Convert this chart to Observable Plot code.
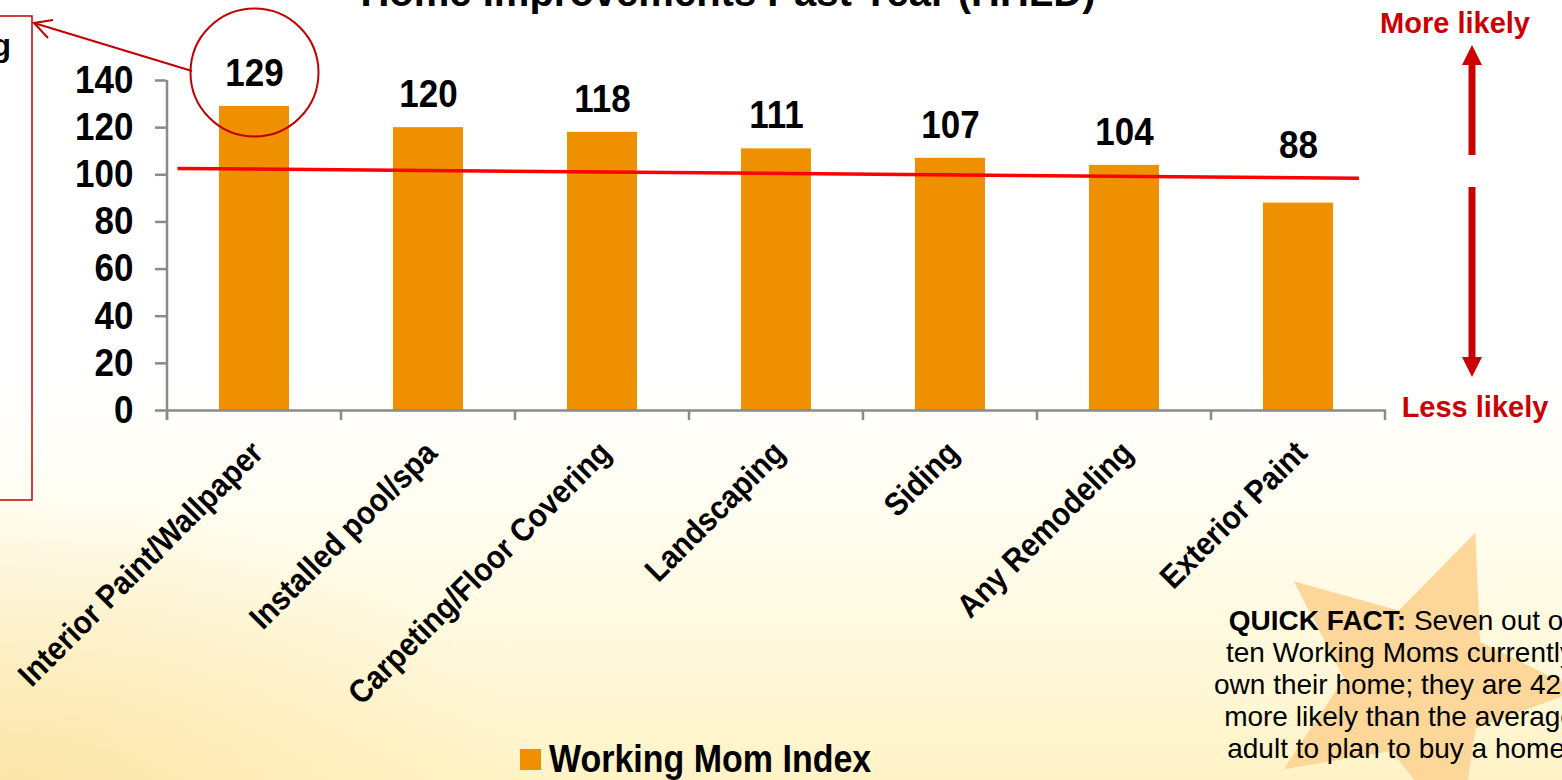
<!DOCTYPE html>
<html>
<head>
<meta charset="utf-8">
<script src="https://cdn.jsdelivr.net/npm/d3@7"></script>
<script src="https://cdn.jsdelivr.net/npm/@observablehq/plot@0.6"></script>
<style>
  html, body { margin: 0; padding: 0; }
  body { width: 1562px; height: 780px; overflow: hidden; }
  #root {
    position: relative; width: 1562px; height: 780px; overflow: hidden;
    font-family: "Liberation Sans", Arial, sans-serif;
    background:
      radial-gradient(ellipse 700px 380px at 0% 100%, rgba(249,221,150,0.6), rgba(255,240,190,0) 75%),
      linear-gradient(180deg, #FFFFFF 0%, #FFFFFF 48%, #FFFDF0 66%, #FFF8DA 85%, #FFF3C6 100%);
  }
  #root > svg { position: absolute; left: 0; top: 0; }
</style>
</head>
<body>
<div id="root"></div>
<script>
// ---- data ----
const categories = ["Interior Paint/Wallpaper", "Installed pool/spa", "Carpeting/Floor Covering", "Landscaping", "Siding", "Any Remodeling", "Exterior Paint"];
const values = [129, 120, 118, 111, 107, 104, 88];
const yTicks = [0, 20, 40, 60, 80, 100, 120, 140];
const refLineValues = [102.5, 98.3];   // red reference line, left end / right end
const highlighted = ["Interior Paint/Wallpaper"];
const seriesName = "Working Mom Index";
const titleText = "Home Improvements Past Year (HHLD)";
const moreLabel = "More likely";
const lessLabel = "Less likely";
const factLines = [
  ["QUICK FACT:", " Seven out of"],
  ["", "ten Working Moms currently"],
  ["", "own their home; they are 42%"],
  ["", "more likely than the average"],
  ["", "adult to plan to buy a home."]
];

const data = categories.map((c, i) => ({category: c, value: values[i]}));
const BAR = "#EE9000";
const RED = "#CC0000";
const GRAY = "#8a8a8a";
const W = 1562, H = 780;

const root = document.getElementById("root");

// ---- background decoration (star) ----
const bg = d3.select(root).append("svg").attr("width", W).attr("height", H);
{
  const cx = 1418, cy = 682, R = 160, r = 74;
  const pts = [];
  for (let k = 0; k < 10; k++) {
    const a = (-69 + k * 36) * Math.PI / 180;
    const rad = k % 2 === 0 ? R : r;
    pts.push([cx + rad * Math.cos(a), cy + rad * Math.sin(a)]);
  }
  bg.append("polygon").attr("points", pts.map(p => p.join(",")).join(" ")).attr("fill", "#FDD699");
}

// ---- custom marks: axis line, band boundary ticks, reference line ----
function bandInfo(x) {
  const step = typeof x.step === "function" ? x.step() : (x(categories[1]) - x(categories[0]));
  const bw = typeof x.bandwidth === "function" ? x.bandwidth() : step * 0.4;
  const left = x(categories[0]) + bw / 2 - step / 2;
  const right = x(categories[categories.length - 1]) + bw / 2 + step / 2;
  return {step, bw, left, right};
}
function frameMark(index, scales) {
  const x = scales.x, y = scales.y;
  const {step, bw, left, right} = bandInfo(x);
  const g = d3.create("svg:g");
  const y0 = y(0);
  g.append("line").attr("x1", left).attr("x2", left)
    .attr("y1", y(yTicks[yTicks.length - 1])).attr("y2", y0 + 10)
    .attr("stroke", GRAY).attr("stroke-width", 2.5);
  const bounds = categories.map(c => x(c) + bw / 2 - step / 2).concat([right]);
  bounds.forEach(b => g.append("line").attr("x1", b).attr("x2", b).attr("y1", y0).attr("y2", y0 + 10)
    .attr("stroke", GRAY).attr("stroke-width", 2.5));
  return g.node();
}
function refMark(index, scales) {
  const x = scales.x, y = scales.y;
  const {step, left, right} = bandInfo(x);
  const g = d3.create("svg:g");
  g.append("line")
    .attr("x1", left + 0.06 * step).attr("y1", y(refLineValues[0]))
    .attr("x2", right - 0.15 * step).attr("y2", y(refLineValues[1]))
    .attr("stroke", "#FF0000").attr("stroke-width", 3.5);
  return g.node();
}

const chart = Plot.plot({
  width: W,
  height: H,
  marginLeft: 166,
  marginRight: 176,
  marginTop: 80,
  marginBottom: 370,
  x: {domain: categories, paddingInner: 0.6, paddingOuter: 0.3, label: null},
  y: {domain: [0, 140], label: null},
  style: {background: "transparent", fontFamily: "'Liberation Sans', Arial, sans-serif", overflow: "visible", color: "black"},
  marks: [
    Plot.barY(data, {x: "category", y: "value", fill: BAR}),
    Plot.ruleY([0], {stroke: GRAY, strokeWidth: 2.5}),
    frameMark,
    Plot.axisY({ticks: yTicks, tickSize: 11, tickPadding: 22, fontSize: 35, fontWeight: "bold",
      stroke: GRAY, strokeWidth: 2.5, fill: "black", label: null, tickFormat: d => String(d)}),
    Plot.axisX({tickSize: 0, tickRotate: -45, tickPadding: 37, dx: 3, fontSize: 29.5, fontWeight: "bold",
      fill: "black", label: null}),
    refMark,
    // value labels sit above the bar, or above the red line where the bar is below it
    Plot.text(data, {x: "category", y: d => Math.max(d.value, refLineValues[1]), text: d => String(d.value), dy: -33,
      fontSize: 35, fontWeight: "bold", fill: "black"}),
    Plot.dot(data.filter(d => highlighted.includes(d.category)), {x: "category", y: "value", dy: -34,
      r: 64, stroke: "#C00000", strokeWidth: 2, fill: "none"})
  ]
});
root.appendChild(chart);
// slight vertical stretch of the chart's text, as in the original rendering
d3.select(chart).selectAll("text").each(function () {
  const t = this.getAttribute("transform");
  if (t) this.setAttribute("transform", t + " scale(1,1.1)");
});

// ---- overlay annotations ----
const fg = d3.select(root).append("svg").attr("width", W).attr("height", H)
  .style("font-family", "'Liberation Sans', Arial, sans-serif");

// title (cut off at the top edge, as in the original)
fg.append("text").attr("x", 728).attr("y", 6).attr("text-anchor", "middle")
  .attr("font-size", 40).attr("font-weight", "bold").attr("fill", "black").text(titleText);

// left red box and arrow
fg.append("rect").attr("x", -10).attr("y", 16).attr("width", 42).attr("height", 484)
  .attr("fill", "none").attr("stroke", "#C00000").attr("stroke-width", 1.5);
fg.append("text").attr("x", 11).attr("y", 56).attr("text-anchor", "end")
  .attr("font-size", 32).attr("font-weight", "bold").attr("fill", "black").text("g");
fg.append("line").attr("x1", 192).attr("y1", 71).attr("x2", 34).attr("y2", 23)
  .attr("stroke", "#C00000").attr("stroke-width", 2);
fg.append("polyline").attr("points", "53,20 34,23 48,38")
  .attr("fill", "none").attr("stroke", "#C00000").attr("stroke-width", 2);

// right side likelihood arrows
fg.append("text").attr("x", 1455).attr("y", 33).attr("text-anchor", "middle")
  .attr("font-size", 29).attr("font-weight", "bold").attr("fill", RED).text(moreLabel);
fg.append("text").attr("x", 1475).attr("y", 417).attr("text-anchor", "middle")
  .attr("font-size", 29).attr("font-weight", "bold").attr("fill", RED).text(lessLabel);
fg.append("line").attr("x1", 1472).attr("x2", 1472).attr("y1", 155).attr("y2", 62)
  .attr("stroke", RED).attr("stroke-width", 7);
fg.append("polygon").attr("points", "1462,65 1472,45 1482,65").attr("fill", RED);
fg.append("line").attr("x1", 1472).attr("x2", 1472).attr("y1", 187).attr("y2", 360)
  .attr("stroke", RED).attr("stroke-width", 7);
fg.append("polygon").attr("points", "1462,357 1472,377 1482,357").attr("fill", RED);

// legend
fg.append("rect").attr("x", 520).attr("y", 749).attr("width", 21).attr("height", 21).attr("fill", BAR);
fg.append("text").attr("transform", "translate(549,772) scale(1,1.12)")
  .attr("font-size", 34).attr("font-weight", "bold").attr("fill", "black").text(seriesName);

// quick fact
factLines.forEach((ln, i) => {
  const t = fg.append("text").attr("x", 1400).attr("y", 630 + i * 32).attr("text-anchor", "middle")
    .attr("font-size", 28).attr("fill", "black");
  if (ln[0]) t.append("tspan").attr("font-weight", "bold").text(ln[0]);
  t.append("tspan").text(ln[1]);
});
</script>
</body>
</html>
